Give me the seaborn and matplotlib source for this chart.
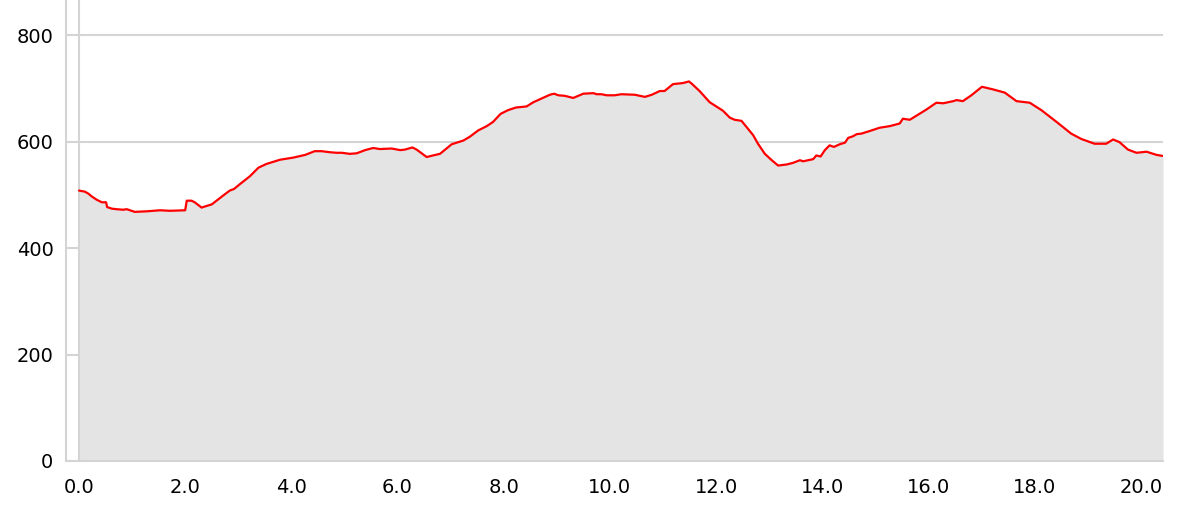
import pandas as pd
import seaborn as sns
import matplotlib.pyplot as plt
from matplotlib.ticker import FormatStrFormatter

# elevation profile (km, metres)
distance_km = [0.00, 0.11, 0.18, 0.24, 0.33, 0.43, 0.51, 0.53, 0.62, 0.71,
               0.83, 0.90, 0.96, 1.05, 1.27, 1.53, 1.71, 2.00, 2.03, 2.12,
               2.18, 2.31, 2.40, 2.50, 2.59, 2.72, 2.84, 2.92, 3.03, 3.22,
               3.38, 3.53, 3.79, 4.04, 4.26, 4.44, 4.57, 4.73, 4.85, 4.95,
               5.10, 5.23, 5.39, 5.54, 5.67, 5.89, 6.05, 6.14, 6.28, 6.36,
               6.55, 6.67, 6.80, 7.02, 7.24, 7.36, 7.52, 7.68, 7.80, 7.94,
               8.08, 8.23, 8.43, 8.56, 8.74, 8.87, 8.95, 9.03, 9.15, 9.31,
               9.50, 9.69, 9.75, 9.84, 9.94, 10.09, 10.22, 10.47, 10.66, 10.79,
               10.94, 11.03, 11.19, 11.38, 11.49, 11.54, 11.69, 11.88, 12.13, 12.26,
               12.35, 12.48, 12.70, 12.79, 12.92, 13.05, 13.17, 13.33, 13.45, 13.58,
               13.64, 13.83, 13.89, 13.97, 14.05, 14.14, 14.22, 14.33, 14.43, 14.49,
               14.58, 14.65, 14.74, 14.93, 15.08, 15.27, 15.46, 15.52, 15.65, 15.78,
               15.96, 16.15, 16.28, 16.47, 16.53, 16.65, 16.81, 16.97, 17.01, 17.22,
               17.44, 17.66, 17.91, 18.13, 18.44, 18.69, 18.88, 19.13, 19.35, 19.48,
               19.60, 19.76, 19.92, 20.11, 20.30, 20.42]
elevation_m = [508, 506, 502, 497, 491, 486, 486, 477, 474, 473,
               472, 473, 471, 468, 469, 471, 470, 471, 489, 489,
               486, 476, 479, 482, 489, 499, 508, 511, 520, 535,
               551, 558, 566, 570, 575, 582, 582, 580, 579, 579,
               577, 578, 584, 588, 586, 587, 584, 585, 589, 585,
               571, 574, 577, 595, 602, 609, 621, 629, 637, 652,
               659, 664, 666, 674, 682, 688, 690, 687, 686, 682,
               690, 691, 689, 689, 687, 687, 689, 688, 684, 688,
               695, 695, 708, 710, 713, 709, 695, 674, 658, 645,
               641, 639, 612, 596, 577, 565, 555, 557, 560, 565,
               563, 567, 574, 572, 584, 593, 590, 595, 598, 607,
               610, 614, 615, 621, 626, 629, 634, 643, 641, 649,
               660, 673, 672, 676, 678, 676, 687, 700, 703, 698,
               692, 676, 673, 659, 635, 615, 605, 596, 596, 604,
               599, 585, 579, 581, 575, 573]
y_ticks = [0, 200, 400, 600, 800]
x_ticks = [0, 2, 4, 6, 8, 10, 12, 14, 16, 18, 20]

profile = pd.DataFrame({'km': distance_km, 'elev': elevation_m})

sns.set_style('white')
plt.rcParams['font.family'] = ['DejaVu Sans']

grey = '#d4d4d4'
fig = plt.figure(figsize=(11.86, 5.09), dpi=100)
ax = fig.add_axes([66 / 1186, 48 / 509, 1097 / 1186, 461 / 509])

ax.fill_between(profile['km'], profile['elev'], color='#e4e4e4', lw=0, zorder=2)
sns.lineplot(data=profile, x='km', y='elev', color='red', lw=1.6, ax=ax, zorder=3)
ax.axvline(0, color=grey, lw=1.5, zorder=2.5)

ax.set_xlim(-0.245, max(distance_km))
ax.set_ylim(0, 866)
ax.set_yticks(y_ticks)
ax.set_xticks(x_ticks)
ax.set_xticks([max(distance_km)], minor=True)
ax.xaxis.set_major_formatter(FormatStrFormatter('%.1f'))
ax.set_xlabel('')
ax.set_ylabel('')

ax.set_axisbelow(True)
ax.yaxis.grid(True, color=grey, lw=1.5)
ax.xaxis.grid(False)
for side in ['top', 'right']:
    ax.spines[side].set_visible(False)
for side in ['left', 'bottom']:
    ax.spines[side].set_color(grey)
    ax.spines[side].set_linewidth(1.5)

ax.tick_params(axis='y', length=0, pad=9, labelsize=14, labelcolor='black')
ax.tick_params(axis='x', which='both', length=8, width=1.5, color=grey,
               pad=4, labelsize=14, labelcolor='black')

fig.savefig('out.png', dpi=100)
